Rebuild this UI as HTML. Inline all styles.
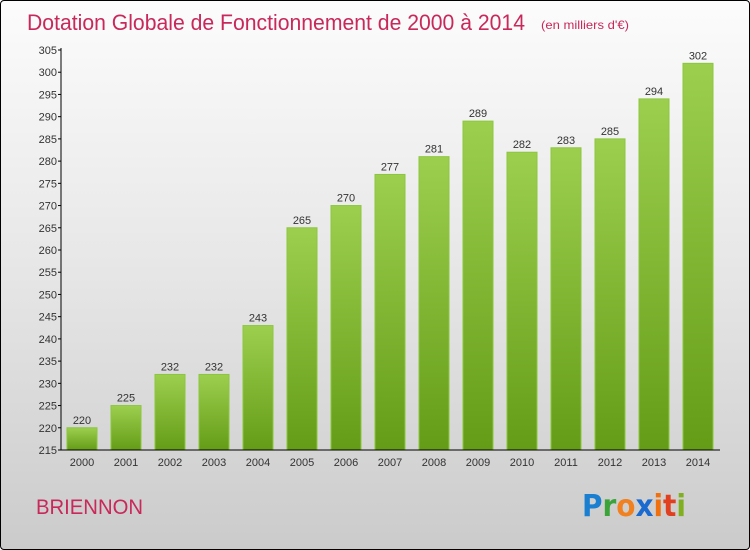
<!DOCTYPE html>
<html><head><meta charset="utf-8"><style>
html,body{margin:0;padding:0}
body{width:750px;height:550px;overflow:hidden;font-family:"Liberation Sans",sans-serif}
#frame{position:absolute;left:0;top:0;width:748px;height:548px;border:1px solid #000;border-radius:4px;background:linear-gradient(#fcfcfc,#e6e6e6 50%,#cbcbcb)}
</style></head><body>
<div id="frame"></div>
<svg id="chart" width="750" height="550" style="position:absolute;left:0;top:0">
<defs><linearGradient id="bg" x1="0" y1="0" x2="0" y2="1"><stop offset="0" stop-color="#9ccf4e"/><stop offset="1" stop-color="#649c17"/></linearGradient></defs>
<text x="27" y="30" font-size="22" fill="#c8285a" textLength="498" lengthAdjust="spacingAndGlyphs">Dotation Globale de Fonctionnement de 2000 à 2014</text>
<text x="541" y="29" font-size="12" fill="#c8285a" textLength="88" lengthAdjust="spacingAndGlyphs">(en milliers d'€)</text>
<g id="yaxis"></g>
<g id="bars"></g>
<g id="xaxis"></g>
<text x="36" y="514" font-size="21" fill="#c8285a" textLength="107" lengthAdjust="spacingAndGlyphs">BRIENNON</text>
<text x="582" y="516" font-size="30" font-weight="bold" font-family="DejaVu Sans,sans-serif" textLength="104" lengthAdjust="spacingAndGlyphs"><tspan fill="#1a7fd0">P</tspan><tspan fill="#3aa43a">r</tspan><tspan fill="#f08020">o</tspan><tspan fill="#1a6ad0">x</tspan><tspan fill="#f07010">i</tspan><tspan fill="#e04020">t</tspan><tspan fill="#80b020">i</tspan></text>
</svg>
<script>
const years=["2000","2001","2002","2003","2004","2005","2006","2007","2008","2009","2010","2011","2012","2013","2014"];
const values=[220,225,232,232,243,265,270,277,281,289,282,283,285,294,302];
const yTicks=[215,220,225,230,235,240,245,250,255,260,265,270,275,280,285,290,295,300,305];
const NS="http://www.w3.org/2000/svg";
const y0=450,y1=50,vmin=215,vmax=305,xL=61,xR=720,step=44,x0=82,bw=30;
const Y=v=>y0-(v-vmin)/(vmax-vmin)*(y0-y1);
const X=i=>x0+i*step;
function el(t,a,p,txt){const e=document.createElementNS(NS,t);for(const k in a)e.setAttribute(k,a[k]);if(txt!==undefined)e.textContent=txt;p.appendChild(e);return e;}
const ya=document.getElementById('yaxis'),xa=document.getElementById('xaxis'),bg=document.getElementById('bars');
el('line',{x1:xL,y1:y1-2,x2:xL,y2:y0,stroke:'#000','stroke-width':1},ya);
el('line',{x1:xL,y1:y0,x2:xR,y2:y0,stroke:'#000','stroke-width':1},xa);
yTicks.forEach(v=>{
  const t=el('line',{x1:xL-3,y1:Y(v),x2:xL,y2:Y(v),stroke:'#000'},ya);
  
  
  const l=el('text',{x:xL-4,y:Y(v)+4,'font-size':11,fill:'#333','text-anchor':'end'},ya,v);
  
  
});
years.forEach((yr,i)=>{
  const v=values[i];
  const r=el('rect',{x:X(i)-bw/2,y:Y(v),width:bw,height:y0-Y(v),fill:'url(#bg)',stroke:'#8cc63f','stroke-width':1},bg);
  
  
  const vl=el('text',{x:X(i),y:Y(v)-4,'font-size':11,fill:'#333','text-anchor':'middle'},bg,v);
  
  
  const xl=el('text',{x:X(i),y:y0+16,'font-size':11,fill:'#333','text-anchor':'middle'},xa,yr);
  
  
});
</script>
</body></html>
